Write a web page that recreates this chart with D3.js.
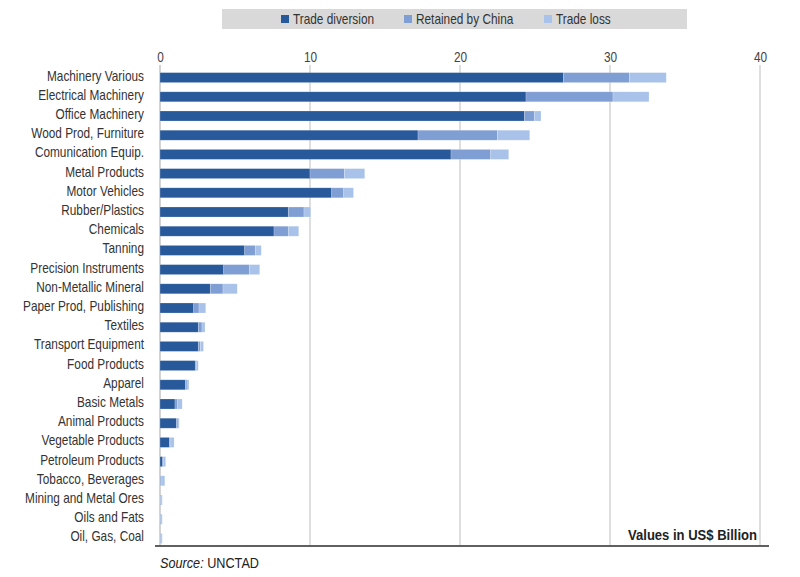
<!DOCTYPE html>
<html><head><meta charset="utf-8">
<script src="https://cdn.jsdelivr.net/npm/d3@7/dist/d3.min.js"></script>
<style>
body{margin:0;background:#fff;}
svg text{font-family:"Liberation Sans",Arial,sans-serif;}
</style></head>
<body><svg id="chart" width="800" height="577"></svg>
<script>
const categories = ["Machinery Various","Electrical Machinery","Office Machinery","Wood Prod, Furniture","Comunication Equip.","Metal Products","Motor Vehicles","Rubber/Plastics","Chemicals","Tanning","Precision Instruments","Non-Metallic Mineral","Paper Prod, Publishing","Textiles","Transport Equipment","Food Products","Apparel","Basic Metals","Animal Products","Vegetable Products","Petroleum Products","Tobacco, Beverages","Mining and Metal Ores","Oils and Fats","Oil, Gas, Coal"];
const tradeDiversion = [26.9,24.4,24.3,17.2,19.4,10.0,11.45,8.55,7.6,5.65,4.25,3.35,2.25,2.55,2.55,2.35,1.7,1.0,1.1,0.62,0.18,0.02,0.02,0.02,0.02];
const retainedByChina = [4.4,5.8,0.65,5.3,2.65,2.3,0.8,1.05,0.95,0.7,1.7,0.85,0.35,0.25,0.15,0.1,0.1,0.18,0.1,0.1,0.07,0.1,0.05,0.05,0.05];
const tradeLoss = [2.45,2.4,0.45,2.15,1.2,1.35,0.65,0.45,0.7,0.4,0.7,0.95,0.45,0.2,0.2,0.1,0.13,0.3,0.08,0.22,0.13,0.2,0.08,0.08,0.08];
const seriesNames = ["Trade diversion","Retained by China","Trade loss"];
const xTicks = [0,10,20,30,40];
const colors = ["#28599a","#7f9ed3","#a8c2ea"];
const NARROW = "scale(0.845,1)";

const svg = d3.select("#chart");
const x = d3.scaleLinear().domain([0,40]).range([160,760]);
const y = d3.scaleBand().domain(categories).range([68,548]).paddingInner(0.48).paddingOuter(0.24);

// gridlines
svg.append("g").selectAll("line").data(xTicks.slice(1)).join("line")
  .attr("x1",d=>x(d)).attr("x2",d=>x(d)).attr("y1",65).attr("y2",547)
  .attr("stroke","#c8c8c8").attr("stroke-width",1.2);
svg.append("line").attr("x1",x(0)).attr("x2",x(0)).attr("y1",65).attr("y2",547)
  .attr("stroke","#b5b5b5").attr("stroke-width",1.2);

// top axis
const xAxis = d3.axisTop(x).tickValues(xTicks).tickSize(0).tickPadding(0);
const ax = svg.append("g").attr("transform","translate(0,62)").call(xAxis);
ax.select(".domain").remove();
ax.selectAll("text").attr("fill","#444").attr("font-size","14px").attr("transform",NARROW);

// stacked data
const rows = categories.map((c,i)=>({cat:c,"Trade diversion":tradeDiversion[i],"Retained by China":retainedByChina[i],"Trade loss":tradeLoss[i]}));
const stacked = d3.stack().keys(seriesNames)(rows);
svg.append("g").selectAll("g").data(stacked).join("g")
  .attr("fill",(d,i)=>colors[i])
  .selectAll("rect").data(d=>d).join("rect")
  .attr("x",d=>x(d[0])).attr("width",d=>Math.max(0,x(d[1])-x(d[0])))
  .attr("y",d=>y(d.data.cat)).attr("height",y.bandwidth())
  .attr("stroke","#ffffff").attr("stroke-opacity",0.35).attr("stroke-width",0.6);

// y labels
const yAxis = d3.axisLeft(y).tickSize(0).tickPadding(0);
const ay = svg.append("g").attr("transform","translate(144,-1.5)").call(yAxis);
ay.select(".domain").remove();
ay.selectAll("text").attr("fill","#333").attr("font-size","14px").attr("transform",NARROW);

// bottom line
svg.append("line").attr("x1",155).attr("x2",769).attr("y1",546).attr("y2",546)
  .attr("stroke","#606060").attr("stroke-width",2);
svg.append("g").attr("transform","translate(757,540)")
  .append("text").attr("transform","scale(0.9,1)").attr("text-anchor","end")
  .attr("font-weight","bold").attr("font-size","14.5px").attr("fill","#222").text("Values in US$ Billion");
const src = svg.append("g").attr("transform","translate(160,568)")
  .append("text").attr("transform",NARROW).attr("font-size","15px").attr("fill","#222");
src.append("tspan").attr("font-style","italic").text("Source:");
src.append("tspan").text(" UNCTAD");

// legend
svg.append("rect").attr("x",222).attr("y",9).attr("width",465).attr("height",20).attr("fill","#d9d9d9");
const legX = [281,404,544];
const lg = svg.append("g").selectAll("g").data(seriesNames).join("g")
  .attr("transform",(d,i)=>`translate(${legX[i]},14)`);
lg.append("rect").attr("width",8).attr("height",8).attr("y",1).attr("fill",(d,i)=>colors[i]);
lg.append("g").attr("transform","translate(12,10)")
  .append("text").attr("transform",NARROW).attr("font-size","14px").attr("fill","#333").text(d=>d);
</script></body></html>
